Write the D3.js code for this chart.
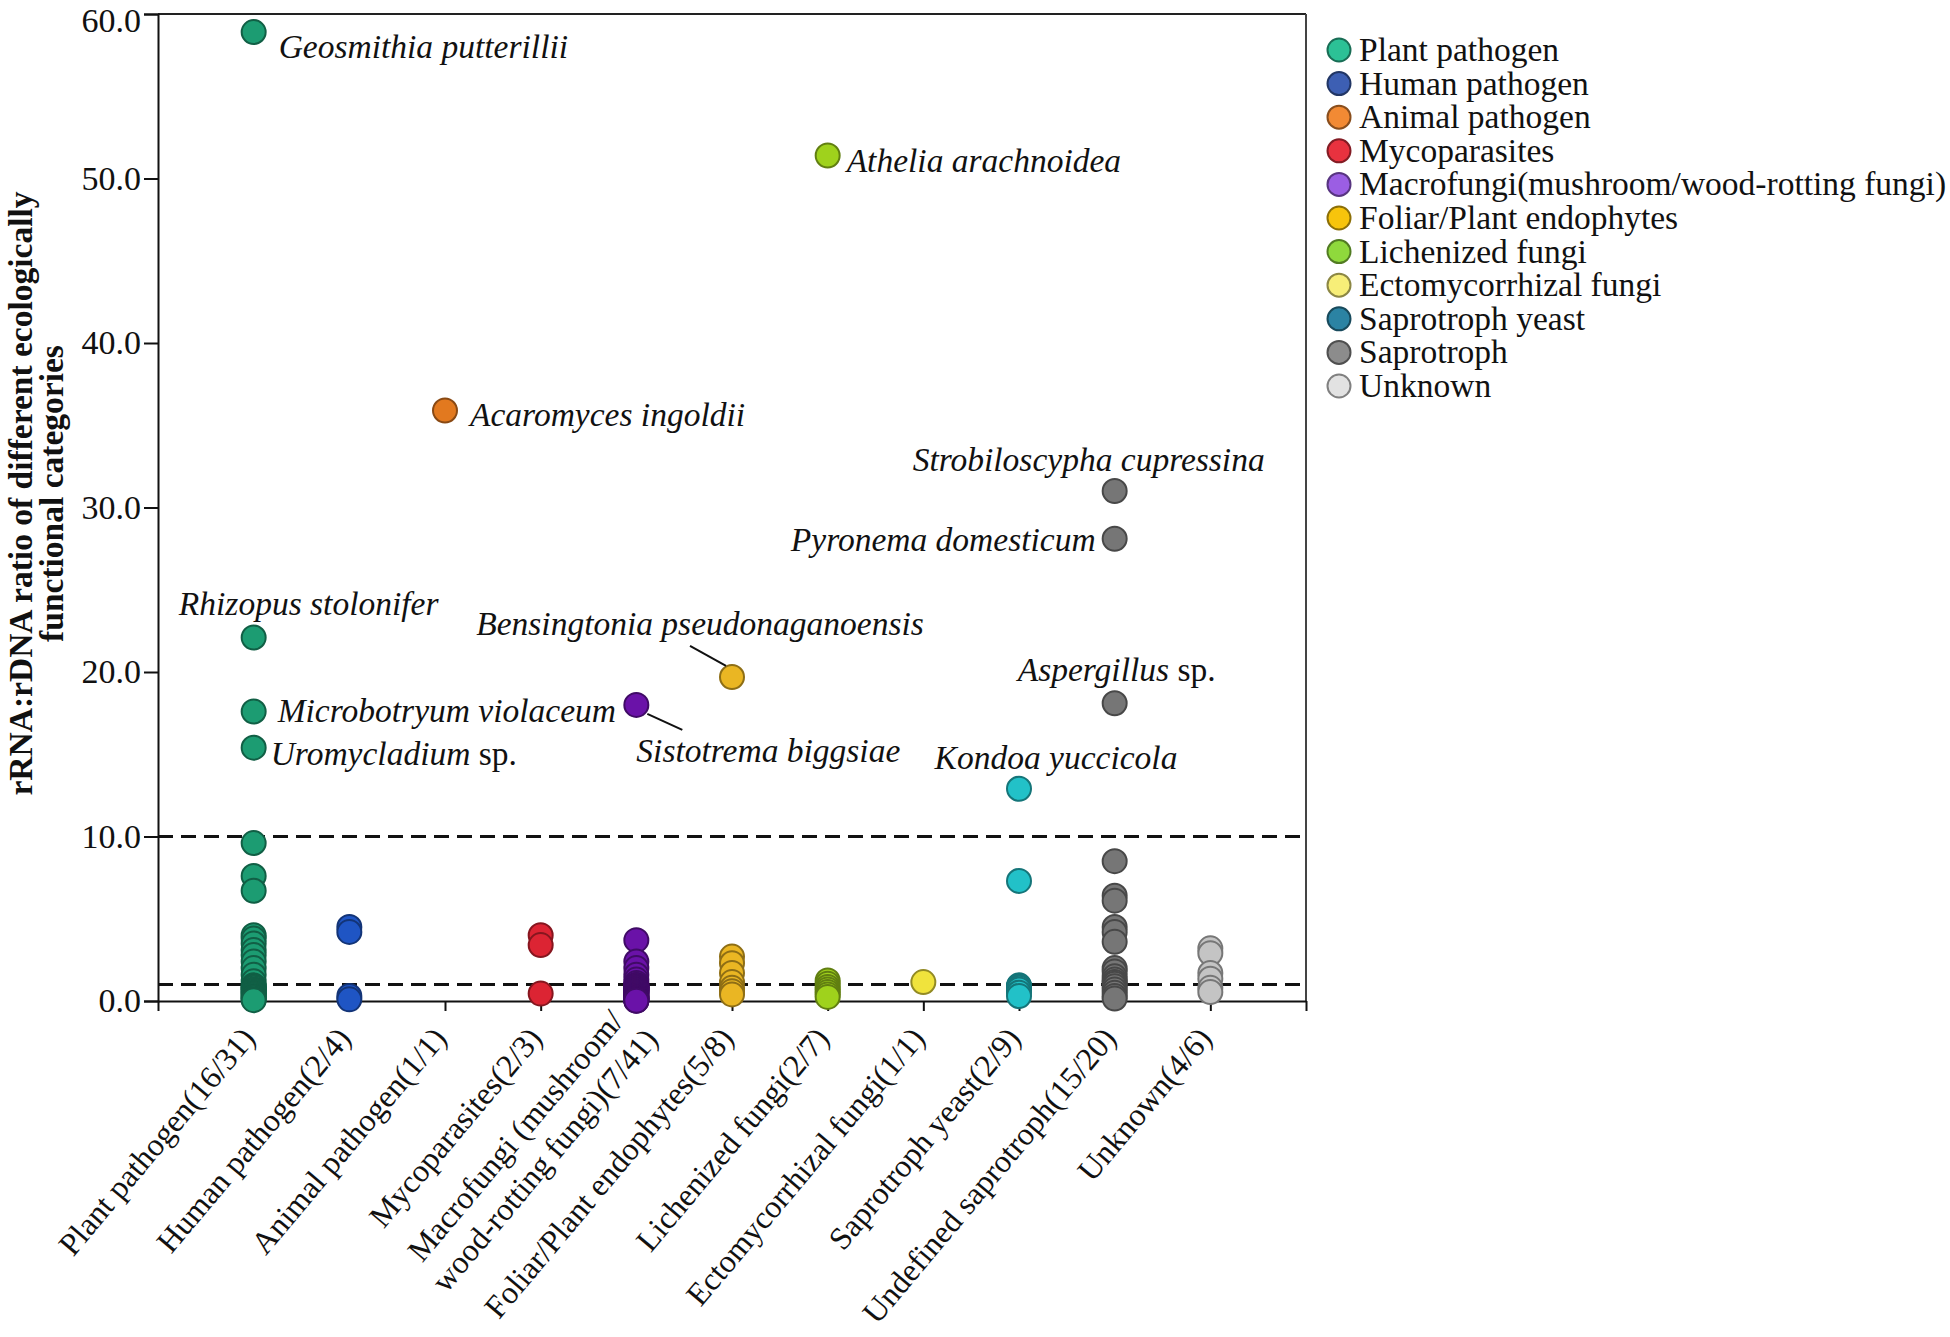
<!DOCTYPE html>
<html>
<head>
<meta charset="utf-8">
<script src="https://cdn.jsdelivr.net/npm/d3@7"></script>
<style>
  body { margin: 0; background: #fff; }
  svg { font-family: "Liberation Serif", "Times New Roman", serif; }
</style>
</head>
<body>
<svg id="chart" width="1950" height="1337"></svg>
<script>
// categories on the x axis ("|" splits a label into two lines)
const categories = [
  "Plant pathogen(16/31)", "Human pathogen(2/4)", "Animal pathogen(1/1)",
  "Mycoparasites(2/3)", "Macrofungi (mushroom/|wood-rotting fungi)(7/41)",
  "Foliar/Plant endophytes(5/8)", "Lichenized fungi(2/7)", "Ectomycorrhizal fungi(1/1)",
  "Saprotroph yeast(2/9)", "Undefined saprotroph(15/20)", "Unknown(4/6)"
];

const legendLabels = [
  "Plant pathogen", "Human pathogen", "Animal pathogen", "Mycoparasites",
  "Macrofungi(mushroom/wood-rotting fungi)", "Foliar/Plant endophytes",
  "Lichenized fungi", "Ectomycorrhizal fungi", "Saprotroph yeast", "Saprotroph", "Unknown"
];

// rRNA:rDNA ratios, one list per category
const plantPathogen = [58.9, 22.1, 17.6, 15.4, 9.6, 7.6, 6.7, 4.0, 3.8, 3.5, 3.1, 2.8, 2.4, 2.0, 1.6, 1.2,
  0.95, 0.9, 0.85, 0.8, 0.7, 0.65, 0.6, 0.5, 0.45, 0.4, 0.3, 0.25, 0.2, 0.1, 0.05];
const humanPathogen = [4.5, 4.2, 0.3, 0.1];
const animalPathogen = [35.9];
const mycoparasites = [4.0, 3.4, 0.45];
const macrofungi = [18.0, 3.7, 2.4, 2.0, 1.6, 1.3, 1.1,
  0.98, 0.95, 0.92, 0.9, 0.88, 0.85, 0.82, 0.8, 0.77, 0.75, 0.72, 0.7, 0.67, 0.65, 0.62, 0.6,
  0.57, 0.55, 0.5, 0.45, 0.4, 0.35, 0.3, 0.27, 0.25, 0.2, 0.17, 0.15, 0.12, 0.1, 0.08, 0.05, 0.02, 0.01];
const foliarEndophytes = [19.7, 2.7, 2.3, 1.7, 1.15, 0.8, 0.6, 0.4];
const lichenizedFungi = [51.4, 1.25, 1.05, 0.85, 0.7, 0.55, 0.4, 0.25];
const ectomycorrhizal = [1.15];
const saprotrophYeast = [12.9, 7.3, 0.95, 0.9, 0.85, 0.8, 0.7, 0.5, 0.3];
const undefinedSaprotroph = [31.0, 28.1, 18.1, 8.5, 6.4, 6.1, 4.5, 4.2, 3.6, 2.0, 1.8, 1.5, 1.3, 1.15, 1.05,
  0.9, 0.7, 0.5, 0.3, 0.15];
const unknownCat = [3.2, 2.9, 1.7, 1.35, 0.8, 0.55];

const seriesValues = [plantPathogen, humanPathogen, animalPathogen, mycoparasites, macrofungi,
  foliarEndophytes, lichenizedFungi, ectomycorrhizal, saprotrophYeast, undefinedSaprotroph, unknownCat];

const yTicks = [0, 10, 20, 30, 40, 50, 60];
const thresholds = [10, 1];

// named species: category index, value, italic name, roman suffix
const speciesCats = [0, 6, 2, 9, 9, 0, 5, 0, 4, 0, 9, 8];
const speciesValues = [58.9, 51.4, 35.9, 31.0, 28.1, 22.1, 19.7, 17.6, 18.0, 15.4, 18.1, 12.9];
const speciesNames = ["Geosmithia putterillii", "Athelia arachnoidea", "Acaromyces ingoldii",
  "Strobiloscypha cupressina", "Pyronema domesticum", "Rhizopus stolonifer",
  "Bensingtonia pseudonaganoensis", "Microbotryum violaceum", "Sistotrema biggsiae",
  "Uromycladium", "Aspergillus", "Kondoa yuccicola"];
const speciesSuffix = ["", "", "", "", "", "", "", "", "", " sp.", " sp.", ""];

// colours
const dotFill = ["#1c9c72", "#1f55c4", "#e2791f", "#dc2433", "#6a12a8", "#eab623",
  "#9fd21c", "#f0e33c", "#22c1c8", "#767676", "#c4c4c4"];
const legendFill = ["#2cc196", "#3d5fb3", "#f28a34", "#e8323f", "#9b5ee3", "#f7c40c",
  "#8fd93c", "#f7ee78", "#2b83a3", "#8c8c8c", "#e2e2e2"];

const svg = d3.select("#chart");
const mLeft = 158, mRight = 1306, mTop = 14, mBottom = 1001;
const fs = 33.5;

const x = d3.scaleLinear().domain([0, 12]).range([mLeft, mRight]);
const y = d3.scaleLinear().domain([0, 60]).range([mBottom, mTop]);

// frame
svg.append("line").attr("x1", mLeft).attr("x2", mRight).attr("y1", mTop).attr("y2", mTop)
  .attr("stroke", "#222").attr("stroke-width", 2);
svg.append("line").attr("x1", mRight).attr("x2", mRight).attr("y1", mTop).attr("y2", mBottom)
  .attr("stroke", "#444").attr("stroke-width", 2);

// dashed threshold lines
svg.selectAll(".thr").data(thresholds).join("line")
  .attr("x1", mLeft).attr("x2", mRight)
  .attr("y1", d => y(d)).attr("y2", d => y(d))
  .attr("stroke", "#111").attr("stroke-width", 3).attr("stroke-dasharray", "15,8");

// axes
const yAxis = svg.append("g").attr("transform", `translate(${mLeft},0)`)
  .call(d3.axisLeft(y).tickValues(yTicks).tickFormat(d3.format(".1f")).tickSize(14).tickPadding(3));
yAxis.selectAll("text").attr("font-size", 34).attr("fill", "#111")
  .attr("font-family", "Liberation Serif");
// keep the top label inside the page
yAxis.selectAll("text").filter(d => d === 60).attr("dy", "0.5em");
yAxis.selectAll("path, line").attr("stroke", "#111").attr("stroke-width", 2);

const xAxis = svg.append("g").attr("transform", `translate(0,${mBottom})`)
  .call(d3.axisBottom(x).tickValues(d3.range(0, 13)).tickFormat("").tickSize(10).tickSizeOuter(0));
xAxis.selectAll("path, line").attr("stroke", "#111").attr("stroke-width", 2);

// rotated category labels
const cfs = 32;
categories.forEach((c, i) => {
  const lines = c.split("|");
  const g = svg.append("g")
    .attr("transform", `translate(${x(i + 1) + 3},${mBottom + 38}) rotate(-50)`);
  if (lines.length === 1) {
    g.append("text").attr("text-anchor", "end").attr("font-size", cfs).attr("fill", "#111").text(c);
  } else {
    // two lines centred on each other, straddling the usual position
    const t2 = g.append("text").attr("text-anchor", "middle").attr("font-size", cfs)
      .attr("fill", "#111").attr("y", 16).text(lines[1]);
    const w = t2.node().getComputedTextLength();
    t2.attr("x", -w / 2 + 12);
    g.append("text").attr("text-anchor", "middle").attr("font-size", cfs)
      .attr("fill", "#111").attr("x", -w / 2 + 12).attr("y", 16 - 38).text(lines[0]);
  }
});

// points
seriesValues.forEach((vals, i) => {
  const stroke = d3.color(dotFill[i]).darker(1.4);
  svg.append("g").selectAll("circle").data(vals).join("circle")
    .attr("cx", x(i + 1)).attr("cy", d => y(d)).attr("r", 12)
    .attr("fill", dotFill[i]).attr("stroke", stroke).attr("stroke-width", 2);
});

// label placement (offsets from the point)
const place = [
  { dx: 25, dy: 26, a: "start" }, { dx: 19, dy: 17, a: "start" }, { dx: 25, dy: 16, a: "start" },
  { dx: -26, dy: -20, a: "middle" }, { dx: -19, dy: 12, a: "end" }, { dx: 55, dy: -22, a: "middle" },
  { dx: -32, dy: -42, a: "middle" }, { dx: 24, dy: 11, a: "start" }, { dx: 0, dy: 57, a: "start" },
  { dx: 17, dy: 17, a: "start" }, { dx: 2, dy: -22, a: "middle" }, { dx: 37, dy: -20, a: "middle" }
];
speciesNames.forEach((n, i) => {
  const px = x(speciesCats[i] + 1), py = y(speciesValues[i]);
  const t = svg.append("text").attr("x", px + place[i].dx).attr("y", py + place[i].dy)
    .attr("text-anchor", place[i].a).attr("font-size", fs).attr("fill", "#111");
  t.append("tspan").attr("font-style", "italic").text(n);
  if (speciesSuffix[i]) t.append("tspan").text(speciesSuffix[i]);
});

// leader lines for the two crowded labels
const leaders = [
  { i: 6, x1: -42, y1: -31, x2: -6, y2: -11 },
  { i: 8, x1: 11, y1: 9, x2: 46, y2: 25 }
];
leaders.forEach(l => {
  const px = x(speciesCats[l.i] + 1), py = y(speciesValues[l.i]);
  svg.append("line").attr("x1", px + l.x1).attr("y1", py + l.y1)
    .attr("x2", px + l.x2).attr("y2", py + l.y2)
    .attr("stroke", "#111").attr("stroke-width", 2);
});

// y axis title
const yt = svg.append("text")
  .attr("transform", `translate(0,${(mTop + mBottom) / 2 - 14}) rotate(-90)`)
  .attr("text-anchor", "middle").attr("font-weight", "bold").attr("font-size", fs).attr("fill", "#111");
yt.append("tspan").attr("x", 0).attr("y", 32).text("rRNA:rDNA ratio of different ecologically");
yt.append("tspan").attr("x", 0).attr("y", 63).text("functional categories");

// legend
const lg = svg.append("g").attr("transform", "translate(1339,50)");
legendLabels.forEach((l, i) => {
  const row = lg.append("g").attr("transform", `translate(0,${i * 33.6})`);
  row.append("circle").attr("r", 11.5).attr("fill", legendFill[i])
    .attr("stroke", d3.color(legendFill[i]).darker(1.6)).attr("stroke-width", 2);
  row.append("text").attr("x", 20).attr("y", 11).attr("font-size", fs).attr("fill", "#111").text(l);
});
</script>
</body>
</html>
